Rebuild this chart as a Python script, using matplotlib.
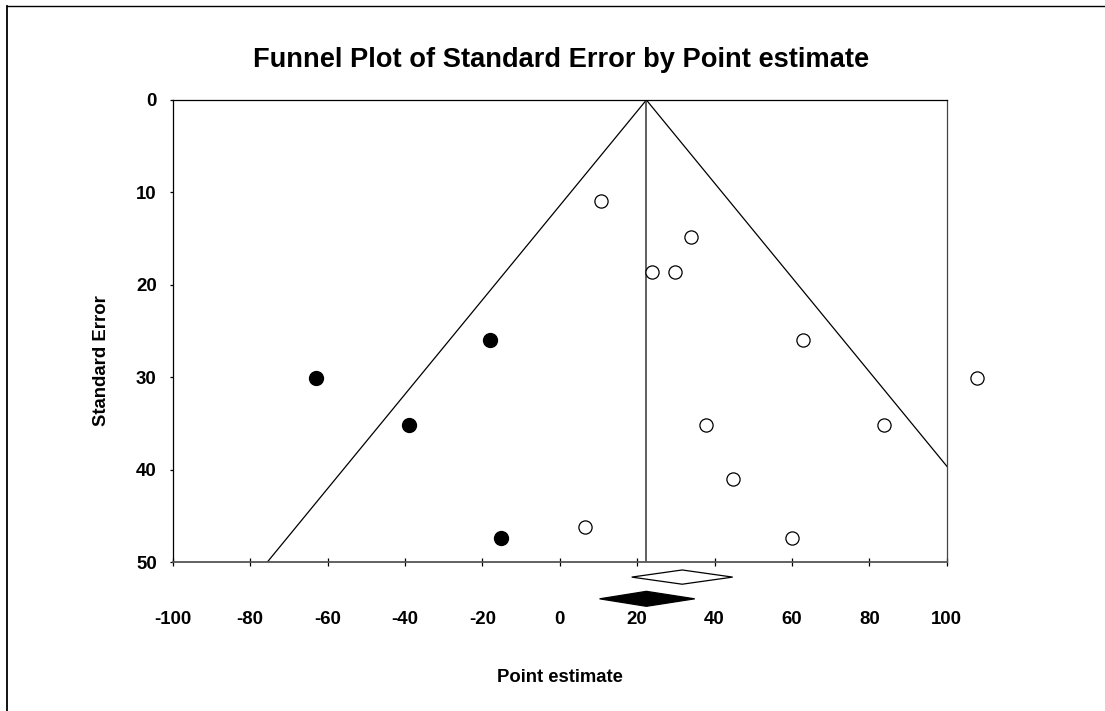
import matplotlib
matplotlib.use("Agg")
import matplotlib.pyplot as plt
from matplotlib.patches import Polygon
from matplotlib.lines import Line2D

plt.rcParams['font.family'] = ['Liberation Sans', 'DejaVu Sans']
plt.rcParams['font.weight'] = 'bold'
plt.rcParams['axes.unicode_minus'] = False

# observed studies (open circles)
obs_x = [10.8, 33.9, 23.9, 29.9, 62.8, 107.8, 37.8, 83.8, 44.8, 6.5, 59.9]
obs_se = [10.95, 14.8, 18.6, 18.6, 26.0, 30.1, 35.2, 35.2, 41.0, 46.2, 47.4]
# imputed studies (filled circles)
imp_x = [-63.0, -39.0, -18.1, -15.1]
imp_se = [30.1, 35.2, 26.0, 47.4]

# summary estimates
obs_est, obs_lo, obs_hi = 31.65, 18.6, 44.7
adj_est, adj_lo, adj_hi = 22.4, 10.3, 34.9

xticks = [-100, -80, -60, -40, -20, 0, 20, 40, 60, 80, 100]
yticks = [0, 10, 20, 30, 40, 50]

fig = plt.figure(figsize=(11.05, 7.11), dpi=100)
ax = fig.add_axes([172.7/1105, 1-562.3/711, (946.7-172.7)/1105, (562.3-100)/711])

ax.set_xlim(-100, 100)
ax.set_ylim(50, 0)

# funnel
se_max = 50
ax.plot([adj_est - 1.96*se_max, adj_est, adj_est + 1.96*se_max],
        [se_max, 0, se_max], color='black', lw=0.9)
ax.plot([adj_est, adj_est], [0, 50], color='#444444', lw=1.2)

ax.plot(obs_x, obs_se, 'o', ms=9.5, mfc='white', mec='black', mew=0.9, clip_on=False, zorder=3)
ax.plot(imp_x, imp_se, 'o', ms=10, mfc='black', mec='black', clip_on=False, zorder=3)

# diamonds
def diamond(est, lo, hi, yc, hh, filled):
    pts = [(lo, yc), (est, yc - hh), (hi, yc), (est, yc + hh)]
    p = Polygon(pts, closed=True, facecolor='black' if filled else 'white',
                edgecolor='black', lw=0.9, clip_on=False, zorder=4)
    ax.add_patch(p)

diamond(obs_est, obs_lo, obs_hi, 51.6, 0.77, False)
diamond(adj_est, adj_lo, adj_hi, 53.95, 0.81, True)

ax.set_xticks(xticks)
ax.set_yticks(yticks)
ax.tick_params(axis='x', direction='inout', length=6, width=0.9, pad=32, labelsize=13.4)
ax.tick_params(axis='y', direction='out', length=2.5, width=0.9, pad=9, labelsize=13.4)
for s in ax.spines.values():
    s.set_linewidth(0.9)
ax.spines['bottom'].set_color('#555555')
ax.spines['bottom'].set_linewidth(1.3)
ax.spines['right'].set_color('#444444')

fig.text(561/1105, 1-60/711, 'Funnel Plot of Standard Error by Point estimate',
         ha='center', va='center', fontsize=19.6, fontweight='bold')
fig.text(559.7/1105, 1-677/711, 'Point estimate', ha='center', va='center',
         fontsize=13.3, fontweight='bold')
fig.text(101.7/1105, 1-361/711, 'Standard Error', ha='center', va='center',
         rotation=90, fontsize=13.3, fontweight='bold')

# figure border (top and left)
fig.add_artist(Line2D([6.5/1105, 6.5/1105], [0, 1-5.5/711], color='black', lw=1.3, transform=fig.transFigure))
fig.add_artist(Line2D([6.5/1105, 1], [1-5.5/711, 1-5.5/711], color='black', lw=1.0, transform=fig.transFigure))

fig.savefig('out.png', dpi=100)
